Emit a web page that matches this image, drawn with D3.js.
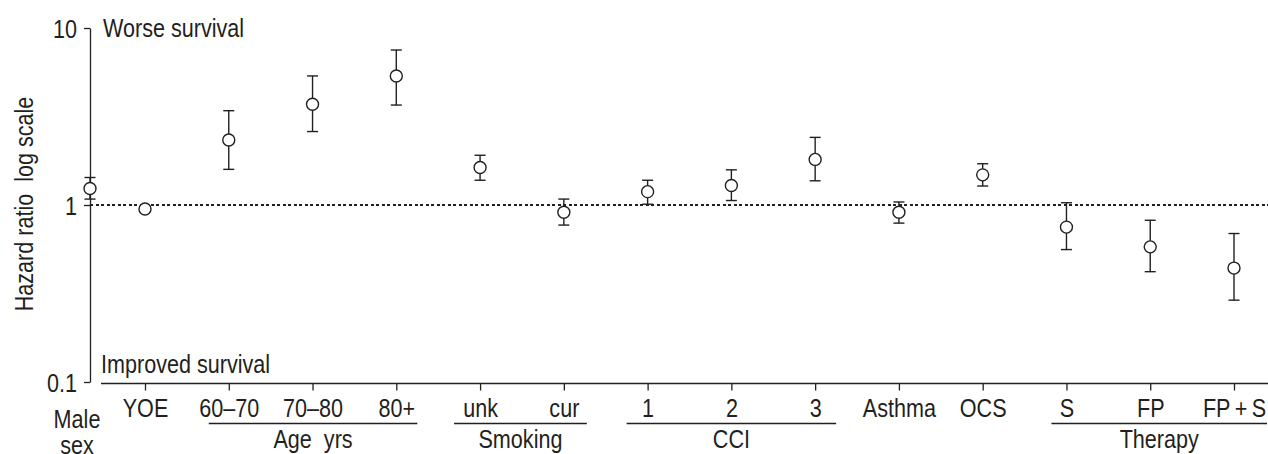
<!DOCTYPE html>
<html>
<head>
<meta charset="utf-8">
<script src="https://d3js.org/d3.v7.min.js"></script>
<style>
  body { margin: 0; background: #fff; }
  svg text { font-family: "Liberation Sans Narrow", "Arial Narrow", "Liberation Sans", Arial, sans-serif; fill: #231f20; white-space: pre; }
</style>
</head>
<body>
<script>
// hazard ratios with 95% CI
const maleLabel = ["Male", "sex"];
const maleHR = [1.24, 1.08, 1.43]; // estimate, lower, upper

const categories = ["YOE", "60–70", "70–80", "80+", "unk", "cur", "1", "2", "3", "Asthma", "OCS", "S", "FP", "FP\u2009+\u2009S"];
const hr    = [0.95, 2.33, 3.71, 5.36, 1.63, 0.91, 1.19, 1.29, 1.81, 0.91, 1.48, 0.75, 0.58, 0.44];
const lower = [0.94, 1.59, 2.60, 3.67, 1.38, 0.77, 1.01, 1.06, 1.37, 0.79, 1.28, 0.56, 0.42, 0.29];
const upper = [0.96, 3.41, 5.36, 7.51, 1.91, 1.08, 1.38, 1.58, 2.41, 1.04, 1.71, 1.03, 0.82, 0.69];

const groupNames = ["Age  yrs", "Smoking", "CCI", "Therapy"];
const groupMembers = [["60–70", "80+"], ["unk", "cur"], ["1", "3"], ["S", "FP\u2009+\u2009S"]];

const yTicks = [0.1, 1, 10];

const width = 1268, height = 454;
const axisX = 90;
const fs = 26;
const ink = "#231f20";

const svg = d3.select("body").append("svg")
  .attr("width", width)
  .attr("height", height);

const y = d3.scaleLog().domain([0.1, 10]).range([382, 28]);
const x = d3.scalePoint().domain(categories).range([145, 1234]);

// y axis
const yAxis = svg.append("g")
  .attr("transform", "translate(" + axisX + ",0)")
  .call(d3.axisLeft(y).tickValues(yTicks).tickFormat(d3.format("")).tickSize(6).tickSizeOuter(0).tickPadding(7));
yAxis.selectAll("path, line").attr("stroke", ink).attr("stroke-width", 1.3);
yAxis.selectAll("text").attr("font-size", fs).attr("font-family", null).attr("dy", "0.35em");

svg.append("text")
  .attr("transform", "translate(33," + 204 + ") rotate(-90)")
  .attr("text-anchor", "middle")
  .attr("font-size", fs)
  .text("Hazard ratio  log scale");

svg.append("text").attr("x", 103).attr("y", 37).attr("font-size", fs).text("Worse survival");
svg.append("text").attr("x", 101).attr("y", 373).attr("font-size", fs).text("Improved survival");

// x axis
svg.append("line")
  .attr("x1", 101).attr("x2", width)
  .attr("y1", 383.5).attr("y2", 383.5)
  .attr("stroke", ink).attr("stroke-width", 1.3);

const xAxis = svg.append("g")
  .attr("transform", "translate(0,383.5)")
  .call(d3.axisBottom(x).tickSize(7).tickPadding(8));
xAxis.select(".domain").remove();
xAxis.selectAll("line").attr("stroke", ink).attr("stroke-width", 1.3);
xAxis.selectAll("text").attr("font-size", fs).attr("font-family", null);

svg.selectAll(".male-label")
  .data(maleLabel)
  .enter().append("text")
  .attr("class", "male-label")
  .attr("x", 77)
  .attr("y", (d, i) => 428 + i * 26)
  .attr("text-anchor", "middle")
  .attr("font-size", fs)
  .text(d => d);

// group underlines and names
const padL = [20, 26, 21, 15], padR = [21, 23, 21, 33];
groupNames.forEach((name, i) => {
  const x0 = x(groupMembers[i][0]) - padL[i];
  const x1 = x(groupMembers[i][1]) + padR[i];
  svg.append("line")
    .attr("x1", x0).attr("x2", x1)
    .attr("y1", 423.5).attr("y2", 423.5)
    .attr("stroke", ink).attr("stroke-width", 1.3);
  svg.append("text")
    .attr("x", (x0 + x1) / 2)
    .attr("y", 448)
    .attr("text-anchor", "middle")
    .attr("font-size", fs)
    .text(name);
});

// reference line at HR = 1
svg.append("line")
  .attr("x1", axisX).attr("x2", width)
  .attr("y1", y(1)).attr("y2", y(1))
  .attr("stroke", ink).attr("stroke-width", 1.5)
  .attr("shape-rendering", "crispEdges")
  .attr("stroke-dasharray", "3,2.5");

// points with CI
const rows = categories.map((c, i) => ({ x: x(c), hr: hr[i], lo: lower[i], hi: upper[i] }));
rows.unshift({ x: axisX, hr: maleHR[0], lo: maleHR[1], hi: maleHR[2] });

const capW = 5.5;
const pts = svg.append("g").selectAll("g")
  .data(rows)
  .enter().append("g");

pts.append("line")
  .attr("x1", d => d.x).attr("x2", d => d.x)
  .attr("y1", d => y(d.lo)).attr("y2", d => y(d.hi))
  .attr("stroke", ink).attr("stroke-width", 1.4);
pts.append("line")
  .attr("x1", d => d.x - capW).attr("x2", d => d.x + capW)
  .attr("y1", d => y(d.hi)).attr("y2", d => y(d.hi))
  .attr("stroke", ink).attr("stroke-width", 1.4);
pts.append("line")
  .attr("x1", d => d.x - capW).attr("x2", d => d.x + capW)
  .attr("y1", d => y(d.lo)).attr("y2", d => y(d.lo))
  .attr("stroke", ink).attr("stroke-width", 1.4);
pts.append("circle")
  .attr("cx", d => d.x)
  .attr("cy", d => y(d.hr))
  .attr("r", 6)
  .attr("fill", "#fff")
  .attr("stroke", ink)
  .attr("stroke-width", 1.4);

// no narrow face installed: squeeze the glyphs to look condensed
svg.selectAll("text").each(function () {
  const len = this.getComputedTextLength();
  this.setAttribute("textLength", len * 0.83);
  this.setAttribute("lengthAdjust", "spacingAndGlyphs");
});
</script>
</body>
</html>
